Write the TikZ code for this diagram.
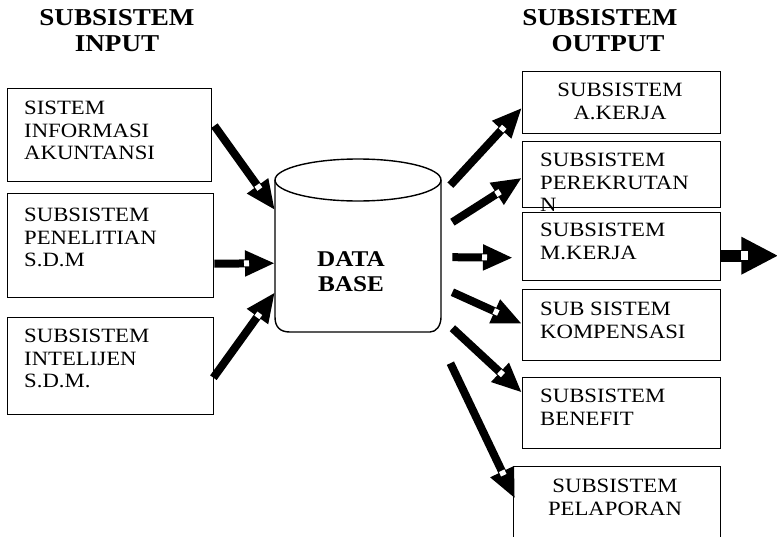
\documentclass[tikz,border=0pt]{standalone}
\usepackage{fontspec}
\setmainfont{Liberation Serif}[FakeStretch=1.12]
\usetikzlibrary{arrows.meta,calc}

% type sizes used in the chart
\newcommand\boxtextfont{\fontsize{20.3}{22.5}\selectfont}
\newcommand\headingfont{\bfseries\fontsize{24.2}{26}\selectfont}
\newcommand\centrefont{\bfseries\fontsize{22.5}{25}\selectfont}

% thick arrow: shaft with a triangular head and a small white notch at the head
% #1 style, #2 from, #3 to, #4/#5 notch distances from the tip, #6 notch width
\newcommand\flowarrow[6]{%
  \draw[#1] (#2) -- (#3);
  \draw[white, line width=#6pt] ($(#3)!#4pt!(#2)$) -- ($(#3)!#5pt!(#2)$);
}

\tikzset{
  box/.style={draw, line width=1.4pt, rectangle, inner sep=0pt, anchor=north west},
  txt/.style={inner sep=0pt, font=\boxtextfont, align=left, anchor=north west},
  ctxt/.style={inner sep=0pt, font=\boxtextfont, align=center, anchor=north},
  heading/.style={inner sep=0pt, font=\headingfont, align=center, anchor=north},
  shaft/.style={line width=8pt, -{Triangle[length=30pt,width=24pt]}},
  bigshaft/.style={line width=12pt, -{Triangle[length=37pt,width=35pt]}},
}

\begin{document}
\begin{tikzpicture}[x=1pt,y=-1pt]
\useasboundingbox (0,0) rectangle (777,536);

% headings
\node[heading] (hin) at (117,9.6) {SUBSISTEM\\INPUT};
\node[heading] (hout) at (600,9.6) {SUBSISTEM\\\hspace*{16pt}OUTPUT};

% input boxes
\node[box, minimum width=204, minimum height=93] (b1) at (7,88) {};
\node[box, minimum width=206, minimum height=104] (b2) at (7,193) {};
\node[box, minimum width=206, minimum height=97] (b3) at (7,317) {};

% output boxes
\node[box, minimum width=198, minimum height=62] (r1) at (522,71) {};
\node[box, minimum width=198, minimum height=66] (r2) at (522,141) {};
\node[box, minimum width=198, minimum height=68] (r3) at (522,212) {};
\node[box, minimum width=198, minimum height=71] (r4) at (522,289) {};
\node[box, minimum width=198, minimum height=71] (r5) at (522,377) {};
\node[box, minimum width=207, minimum height=80] (r6) at (513,466) {};

% box texts
\node[txt] (t1) at (24,101.3) {SISTEM\\INFORMASI\\AKUNTANSI};
\node[txt] (t2) at (24,208.3) {SUBSISTEM\\PENELITIAN\\S.D.M};
\node[txt] (t3) at (24,329.3) {SUBSISTEM\\INTELIJEN\\S.D.M.};
\node[ctxt] (u1) at (620,83.3) {SUBSISTEM\\A.KERJA};
\node[txt] (u2) at (540,153.3) {SUBSISTEM\\PEREKRUTAN\\N};
\node[txt] (u3) at (540,223.3) {SUBSISTEM\\M.KERJA};
\node[txt] (u4) at (540,302.3) {SUB SISTEM\\KOMPENSASI};
\node[txt] (u5) at (540,389.3) {SUBSISTEM\\BENEFIT};
\node[ctxt] (u6) at (615,479.3) {SUBSISTEM\\PELAPORAN};

% database drum
\node[inner sep=0pt, minimum width=166, minimum height=174, anchor=north west] (db) at (275,158) {};
\draw[line width=1.4pt] (275,180) -- (275,317)
  .. controls (275,327) and (280,332) .. (290,332) -- (430,332)
  .. controls (436,332) and (441,326) .. (441,317) -- (441,180);
\draw[line width=1.4pt, fill=white] (358,180) ellipse [x radius=83pt, y radius=21pt];
\node[inner sep=0pt, font=\centrefont, align=center, anchor=north] (dbt) at (351,251.8) {DATA\\BASE};

% inputs into the database
\flowarrow{shaft}{$(b1.east)+(2,-9.5)$}{$(db.west)+(0,-35)$}{31}{26}{6}
\flowarrow{shaft}{$(b2.east)+(0,18)$}{$(db.west)+(0,18)$}{31}{26}{6}
\flowarrow{shaft}{$(b3.east)+(-1,11.5)$}{$(db.west)+(0,47)$}{31}{26}{6}

% database out to the subsystems
\flowarrow{shaft}{$(db.east)+(9,-60)$}{$(r1.west)+(0,5)$}{31}{26}{6}
\flowarrow{shaft}{$(db.east)+(11,-23)$}{$(r2.west)+(0,3)$}{31}{26}{6}
\flowarrow{shaft}{$(db.east)+(11,12)$}{$(r3.west)+(-9,11)$}{31}{26}{6}
\flowarrow{shaft}{$(db.east)+(11,47)$}{$(r4.west)+(0,-1.5)$}{31}{26}{6}
\flowarrow{shaft}{$(db.east)+(11,83)$}{$(r5.west)+(0,-20.5)$}{31}{26}{6}
\flowarrow{shaft}{$(db.east)+(9,118)$}{$(r6.west)+(2,-8)$}{31}{26}{6}

% onward flow
\flowarrow{bigshaft}{$(r3.east)+(0,9)$}{$(r3.east)+(57,9)$}{37}{30}{9}
\end{tikzpicture}
\end{document}
